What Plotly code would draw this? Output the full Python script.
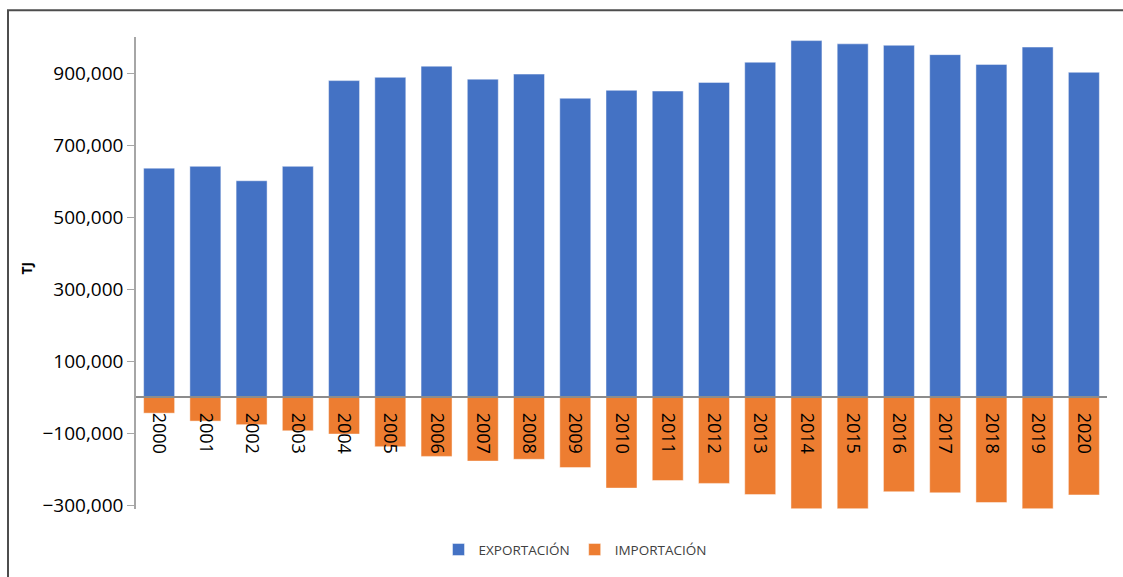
import plotly.graph_objects as go

years = [str(y) for y in range(2000, 2021)]
exportacion = [636000, 641000, 601000, 641000, 879000, 888000, 919000, 883000, 897000, 830000,
               852000, 850000, 874000, 930000, 990000, 981000, 977000, 951000, 924000, 972000, 902000]
importacion = [-44000, -66000, -76000, -93000, -102000, -137000, -164000, -177000, -172000, -195000,
               -252000, -231000, -239000, -270000, -309000, -309000, -262000, -265000, -292000, -309000, -271000]
y_ticks = [-300000, -100000, 100000, 300000, 500000, 700000, 900000]
y_range = [-310000, 1000000]

W, H = 1123, 577
ml, mr, mt, mb = 136, 16, 37, 65
pw, ph = W - ml - mr, H - mt - mb

def px(x):
    return (x - ml) / pw

def py(y):
    return (H - mb - y) / ph

fig = go.Figure()
fig.add_bar(x=years, y=exportacion, name="EXPORTACIÓN",
            marker=dict(color="#4472C4", line=dict(color="rgba(255,255,255,0.45)", width=1)))
fig.add_bar(x=years, y=importacion, name="IMPORTACIÓN",
            marker=dict(color="#ED7D31", line=dict(color="rgba(255,255,255,0.45)", width=1)))

zero_pos = (0 - y_range[0]) / (y_range[1] - y_range[0])

fig.update_layout(
    width=W, height=H,
    margin=dict(l=ml, r=mr, t=mt, b=mb),
    paper_bgcolor="white", plot_bgcolor="white",
    barmode="relative", bargap=0.33,
    font=dict(family="Open Sans, Liberation Sans, sans-serif", color="#000000"),
    legend=dict(orientation="h", x=px(575), y=py(553), xanchor="center", yanchor="middle",
                font=dict(size=13.5, color="#404040"), itemwidth=30, traceorder="normal"),
    xaxis=dict(anchor="free", position=zero_pos, showline=True, linecolor="#8C8C8C", linewidth=1.5,
               ticks="", tickangle=90, tickfont=dict(size=18, color="#000000"),
               showgrid=False, ticklabelstandoff=11),
    yaxis=dict(range=y_range, tickvals=y_ticks, tickformat=",.0f", showline=True,
               linecolor="#A6A6A6", linewidth=1.5, ticks="outside", ticklen=7, tickcolor="#A6A6A6",
               showgrid=False, zeroline=False, tickfont=dict(size=19, color="#000000")),
    annotations=[dict(text="<b>TJ</b>", x=px(27), y=py(270), xref="paper", yref="paper",
                      xanchor="center", yanchor="middle",
                      textangle=-90, showarrow=False, font=dict(size=14, color="#000000"))],
    shapes=[dict(type="rect", xref="paper", yref="paper", x0=px(8), y0=py(590), x1=px(1135), y1=py(10),
                 line=dict(color="#4D4D4D", width=2), layer="below")],
)

fig.write_html("out.html")
